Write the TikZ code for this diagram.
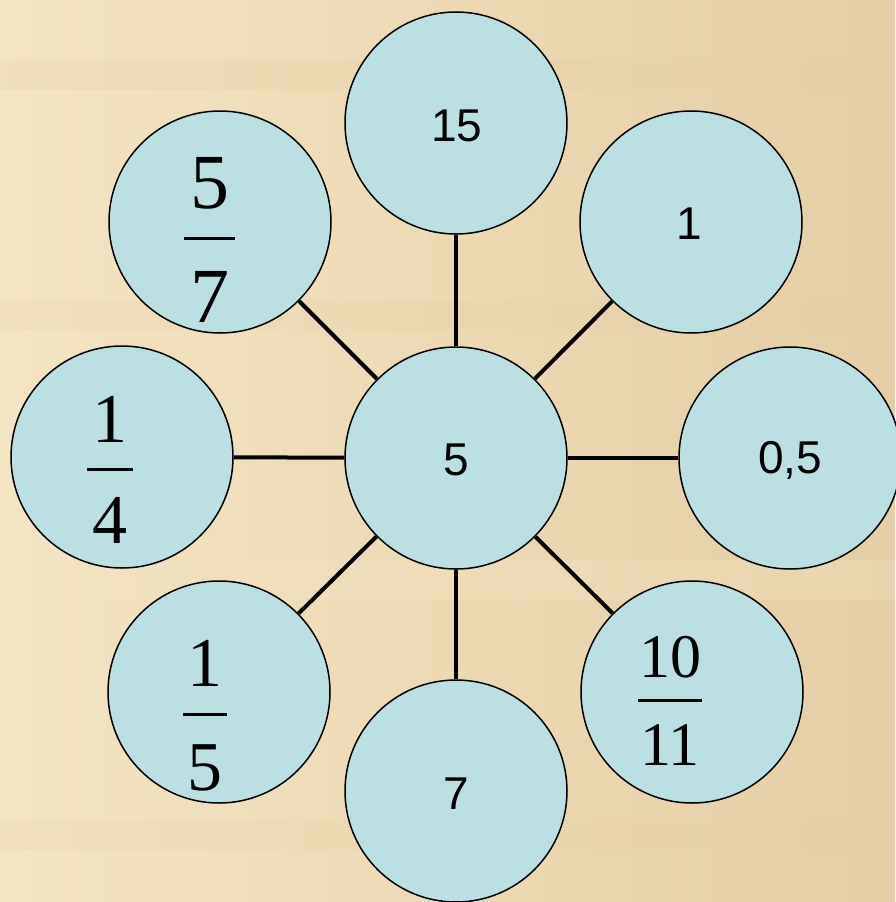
\documentclass[tikz,border=0pt]{standalone}
\usepackage{fontspec}
\setmainfont{Liberation Serif}
\newfontfamily\sansnum{Liberation Sans}
\definecolor{parch}{RGB}{237,215,174}
\definecolor{parchlight}{RGB}{245,228,194}
\definecolor{parchdark}{RGB}{230,206,164}
\definecolor{cfill}{RGB}{187,224,228}
\tikzset{
  bub/.style={circle, draw=black, line width=1.5pt, fill=cfill, minimum size=222pt, inner sep=0pt},
  sanstext/.style={font=\sansnum\fontsize{46}{46}\selectfont},
  fracA/.style={font=\fontsize{78}{78}\selectfont, inner sep=0pt, anchor=base},
  fracB/.style={font=\fontsize{70}{70}\selectfont, inner sep=0pt, anchor=base},
  fracC/.style={font=\fontsize{62}{62}\selectfont, inner sep=0pt, anchor=base},
  bar/.style={line width=3pt},
  link/.style={line width=4pt}
}
\begin{document}
\begin{tikzpicture}[x=1pt,y=-1pt]
\useasboundingbox (0,0) rectangle (895,902);
% background
\shade[left color=parchlight, right color=parchdark] (0,0) rectangle (895,902);
\fill[parchdark, opacity=0.25] (0,60) rectangle (895,90);
\fill[parchdark, opacity=0.2] (0,300) rectangle (895,330);
\fill[parchlight, opacity=0.3] (0,560) rectangle (895,600);
\fill[parchdark, opacity=0.2] (0,820) rectangle (895,850);
% circles
\node[bub] (c)  at (456,458) {};
\node[bub] (t)  at (456,123) {};
\node[bub] (tr) at (691,222) {};
\node[bub] (r)  at (790,458) {};
\node[bub] (br) at (692,692) {};
\node[bub] (b)  at (456,791) {};
\node[bub] (bl) at (219,692) {};
\node[bub] (l)  at (122,457) {};
\node[bub] (tl) at (220,222) {};
% connectors
\foreach \n in {t,tr,r,br,b,bl,l,tl}{\draw[link] (c) -- (\n);}
% sans labels
\node[sanstext] (tc) at (457,126) {15};
\node[sanstext] (trc) at (689,224) {1};
\node[sanstext] (rc) at (790,460) {0,5};
\node[sanstext] (cc) at (456,460) {5};
\node[sanstext] (bc) at (456,794) {7};
% fraction 5/7
\node[fracA] (tln) at (209.5,208) {5};
\draw[bar] (184,238) -- (235,238);
\node[fracA] (tld) at (209.5,322) {7};
% fraction 1/4
\node[fracB] (ln) at (110,442) {1};
\draw[bar] (87,469) -- (133,469);
\node[fracB] (ld) at (110,543) {4};
% fraction 1/5
\node[fracB] (bln) at (205,686) {1};
\draw[bar] (183,714) -- (227,714);
\node[fracB] (bld) at (205,790) {5};
% fraction 10/11
\node[fracC] (brn) at (670,677) {10};
\draw[bar] (638,700) -- (702,700);
\node[fracC] (brd) at (670,765) {11};
\end{tikzpicture}
\end{document}
